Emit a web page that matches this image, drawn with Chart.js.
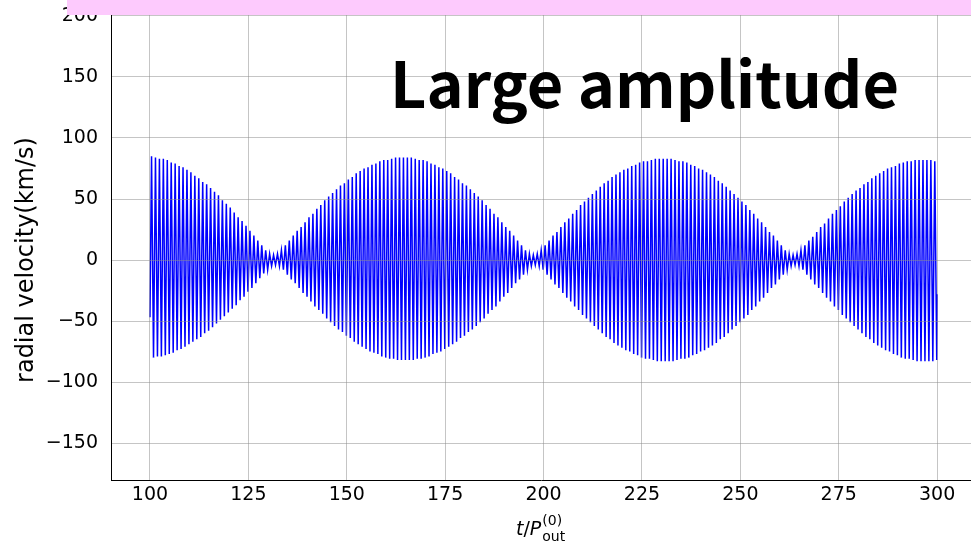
<!DOCTYPE html>
<html>
<head>
<meta charset="utf-8">
<script src="https://cdn.jsdelivr.net/npm/chart.js@4.4.1/dist/chart.umd.min.js"></script>
<style>
  html, body { margin: 0; padding: 0; background: #fff; }
  #wrap { width: 971px; height: 541px; }
</style>
</head>
<body>
<div id="wrap"><canvas id="rvChart" width="971" height="541"></canvas></div>
<script>
// radial velocity, about one swing per time unit from t = 100 to t = 300
// values (km/s)
const orbitStart = 100;
const startValue = -47;
const endValue = -28;

// top of each swing
const peakUp = [
  85, 84, 83, 83, 82, 80, 79, 77, 76, 74, 72, 69, 67, 64, 62, 59, 56, 53, 49, 46, 43, 39, 35, 32, 28, 24, 20, 16, 12, 8, 5,
  4, 5, 8, 12, 16, 20, 24, 27, 31, 35, 38, 42, 45, 49, 52, 55, 58, 61, 63, 66, 68, 71, 73, 75, 76, 78, 79, 81, 82, 82,
  83, 84, 84, 84, 84, 84, 83, 82, 82, 81, 79, 78, 76, 75, 73, 71, 68, 66, 63, 61, 58, 55, 52, 49, 45, 42, 38, 35, 31, 27,
  24, 20, 16, 12, 8, 5,
  4, 5, 8, 12, 16, 20, 23, 27, 31, 34, 38, 41, 45, 48, 51, 54, 57, 60, 63, 65, 68, 70, 72, 74, 75, 77, 78, 80, 81, 81,
  82, 83, 83, 83, 83, 83, 82, 81, 81, 80, 78, 77, 75, 74, 72, 70, 68, 65, 63, 60, 57, 54, 51, 48, 45, 41, 38, 34, 31, 27,
  23, 20, 16, 12, 8, 5,
  4, 5, 8, 12, 16, 19, 23, 27, 30, 34, 38, 41, 44, 48, 51, 54, 57, 59, 62, 64, 67, 69, 71, 73, 75, 76, 77, 79, 80, 81,
  81, 82, 82, 82, 82, 82, 81
];

// bottom of each swing
const peakDown = [
  -80, -79, -79, -78, -77, -76, -74, -73, -71, -69, -67, -65, -63, -60, -58, -55, -52, -49, -46, -43, -40, -37, -33, -30, -26, -23, -19, -15, -11, -8, -5,
  -4, -5, -8, -12, -16, -19, -23, -27, -30, -34, -38, -41, -44, -48, -51, -54, -57, -59, -62, -64, -67, -69, -71, -73, -75, -76, -77, -79, -80, -81,
  -81, -82, -82, -82, -82, -82, -81, -81, -80, -79, -77, -76, -75, -73, -71, -69, -67, -64, -62, -59, -57, -54, -51, -48, -44, -41, -38, -34, -30, -27,
  -23, -19, -16, -12, -8, -5,
  -4, -5, -8, -12, -16, -20, -23, -27, -31, -34, -38, -41, -45, -48, -51, -54, -57, -60, -63, -65, -68, -70, -72, -74, -75, -77, -78, -80, -81, -81,
  -82, -83, -83, -83, -83, -83, -82, -81, -81, -80, -78, -77, -75, -74, -72, -70, -68, -65, -63, -60, -57, -54, -51, -48, -45, -41, -38, -34, -31, -27,
  -23, -20, -16, -12, -8, -5,
  -4, -5, -8, -12, -16, -20, -23, -27, -31, -34, -38, -41, -45, -48, -51, -54, -57, -60, -63, -65, -68, -70, -72, -74, -75, -77, -78, -80, -81, -81,
  -82, -83, -83, -83, -83, -83, -82
];

const xTicks = [100, 125, 150, 175, 200, 225, 250, 275, 300];
const yTicks = [-150, -100, -50, 0, 50, 100, 150, 200];

// each swing: up to the top, half a unit later down to the bottom
const points = [{ x: orbitStart, y: startValue }];
for (let k = 0; k < peakUp.length; k++) {
  const t = orbitStart + k;
  points.push({ x: t + 0.4, y: peakUp[k] });
  points.push({ x: t + 0.9, y: peakDown[k] });
}
points.push({ x: orbitStart + peakUp.length, y: endValue });

const tickFont = { family: "'DejaVu Sans'", size: 19 };
const fmt = v => (v < 0 ? "\u2212" + Math.abs(v) : String(v));

// titles and the pink strip on top
const overlay = {
  id: "overlay",
  afterDraw(chart) {
    const ctx = chart.ctx;
    ctx.save();

    ctx.fillStyle = "#000";
    ctx.font = "bold 63px 'Noto Sans CJK JP'";
    ctx.textBaseline = "alphabetic";
    ctx.textAlign = "left";
    ctx.fillText("Large amplitude", 390, 108);

    // y axis title
    ctx.save();
    ctx.translate(27, 260);
    ctx.rotate(-Math.PI / 2);
    ctx.textAlign = "center";
    ctx.textBaseline = "middle";
    ctx.font = "24px 'DejaVu Sans'";
    ctx.fillText("radial velocity(km/s)", 0, 0);
    ctx.restore();

    // x axis title t/P_out^(0)
    let x = 516;
    const base = 535;
    ctx.textAlign = "left";
    ctx.textBaseline = "alphabetic";
    ctx.font = "italic 19px 'DejaVu Sans'";
    ctx.fillText("t", x, base);
    x += ctx.measureText("t").width;
    ctx.font = "19px 'DejaVu Sans'";
    ctx.fillText("/", x, base);
    x += ctx.measureText("/").width;
    ctx.font = "italic 19px 'DejaVu Sans'";
    ctx.fillText("P", x, base);
    x += ctx.measureText("P").width + 1;
    ctx.font = "14px 'DejaVu Sans'";
    ctx.fillText("(0)", x, base - 10);
    ctx.fillText("out", x, base + 6);

    ctx.fillStyle = "#fdcafd";
    ctx.fillRect(67, 0, 904, 15);
    ctx.restore();
  }
};

new Chart(document.getElementById("rvChart"), {
  type: "line",
  data: {
    datasets: [
      {
        data: points,
        borderColor: "#0000ff",
        borderWidth: 1.5,
        pointRadius: 0,
        tension: 0,
        fill: false
      }
    ]
  },
  options: {
    responsive: false,
    animation: false,
    events: [],
    layout: { padding: 0 },
    plugins: { legend: { display: false }, tooltip: { enabled: false } },
    scales: {
      x: {
        type: "linear",
        min: 90.1,
        max: 308.6,
        afterBuildTicks: s => { s.ticks = xTicks.map(v => ({ value: v })); },
        afterFit: s => { s.height = 61; s.paddingLeft = 0; s.paddingRight = 0; },
        grid: { color: "rgba(140,140,140,0.5)", drawTicks: false, z: 1 },
        border: { color: "#000", width: 1, z: 1 },
        ticks: { font: tickFont, color: "#000", padding: 4, maxRotation: 0, autoSkip: false, callback: v => fmt(v) }
      },
      y: {
        min: -180.3,
        max: 213.1,
        afterBuildTicks: s => { s.ticks = yTicks.map(v => ({ value: v })); },
        afterFit: s => { s.width = 111; s.paddingTop = 0; s.paddingBottom = 0; },
        grid: { color: "rgba(140,140,140,0.5)", drawTicks: false, z: 1 },
        border: { color: "#000", width: 1, z: 1 },
        ticks: { font: tickFont, color: "#000", padding: 13, autoSkip: false, callback: v => fmt(v) }
      }
    }
  },
  plugins: [overlay]
});
</script>
</body>
</html>
